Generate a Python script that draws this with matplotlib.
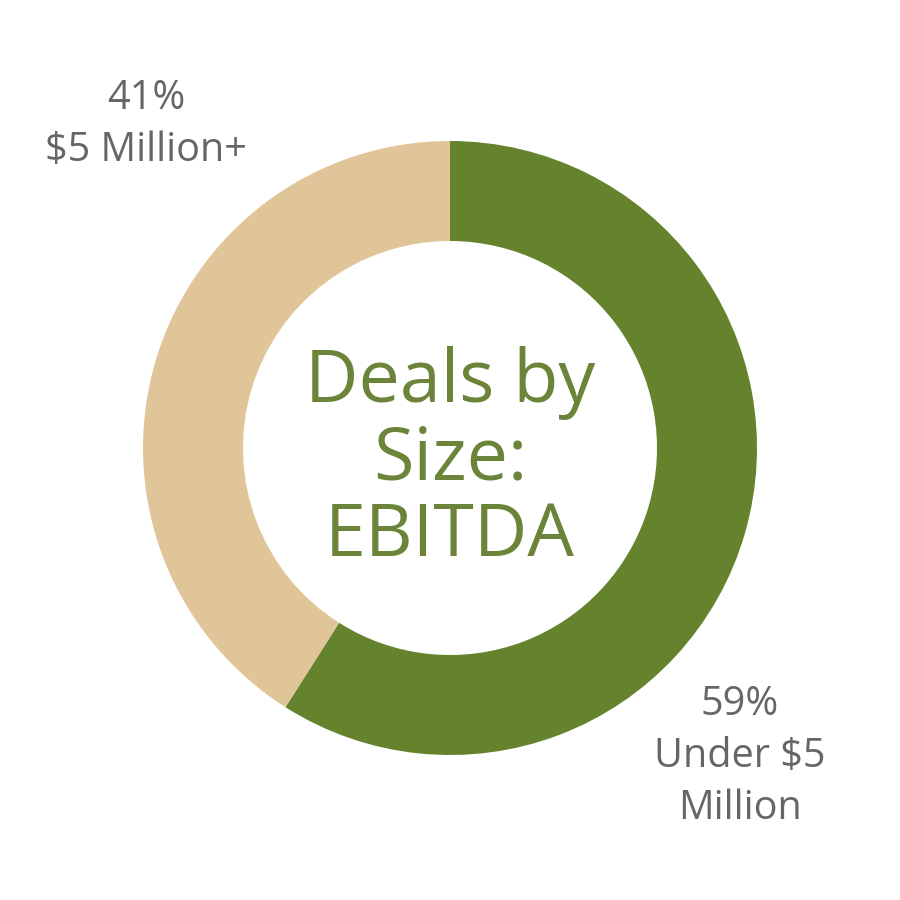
import matplotlib
matplotlib.use("Agg")
import matplotlib.pyplot as plt

plt.rcParams['font.family'] = ['Open Sans', 'DejaVu Sans']

labels = ['Under $5\nMillion', '$5 Million+']
shares = [59, 41]
colors = ['#65832d', '#e0c598']

fig = plt.figure(figsize=(9, 9), dpi=100)
ax = fig.add_axes([0, 0, 1, 1])

# ring, clockwise from the top
ax.pie(shares, colors=colors, startangle=90, counterclock=False,
       radius=307, wedgeprops=dict(width=100, edgecolor='none'))

ax.set_xlim(-450, 450)
ax.set_ylim(-452, 448)
ax.set_aspect('equal')
ax.axis('off')

# outside labels
ax.text(-304, 323, f"{shares[1]}%\n{labels[1]}", ha='center', va='center',
        fontsize=28.5, color='#666666', linespacing=1.38, fontweight='medium')
ax.text(290, -309, f"{shares[0]}%\n{labels[0]}", ha='center', va='center',
        fontsize=28.5, color='#666666', linespacing=1.38, fontweight='medium')

# centre title
ax.text(0, -12, "Deals by\nSize:\nEBITDA", ha='center', va='center',
        fontsize=53, color='#6b843a', linespacing=1.05, fontweight='medium')

fig.savefig('out.png', dpi=100)
